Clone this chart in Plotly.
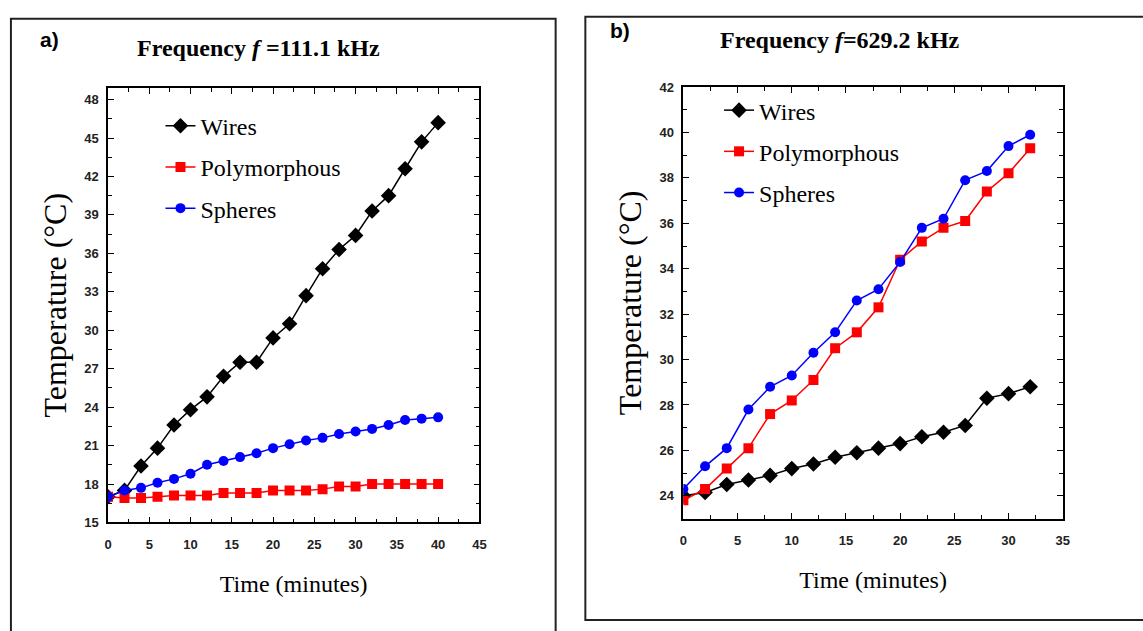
import plotly.graph_objects as go

# ---------------- data ----------------
time_a = [0, 2, 4, 6, 8, 10, 12, 14, 16, 18, 20, 22, 24, 26, 28, 30, 32, 34, 36, 38, 40]
wires_a = [17.0, 17.5, 19.4, 20.8, 22.6, 23.8, 24.8, 26.4, 27.5, 27.5, 29.4, 30.5, 32.7, 34.8, 36.3, 37.4, 39.3, 40.5, 42.6, 44.7, 46.2]
poly_a = [17.0, 16.9, 16.9, 17.0, 17.1, 17.1, 17.1, 17.3, 17.3, 17.3, 17.5, 17.5, 17.5, 17.6, 17.8, 17.8, 18.0, 18.0, 18.0, 18.0, 18.0]
spheres_a = [17.0, 17.5, 17.7, 18.1, 18.4, 18.8, 19.5, 19.8, 20.1, 20.4, 20.8, 21.1, 21.4, 21.6, 21.9, 22.1, 22.3, 22.6, 23.0, 23.1, 23.2]

time_b = [0, 2, 4, 6, 8, 10, 12, 14, 16, 18, 20, 22, 24, 26, 28, 30, 32]
wires_b = [24.0, 24.15, 24.5, 24.7, 24.9, 25.2, 25.4, 25.7, 25.9, 26.1, 26.3, 26.6, 26.8, 27.1, 28.3, 28.5, 28.8]
poly_b = [23.8, 24.3, 25.2, 26.1, 27.6, 28.2, 29.1, 30.5, 31.2, 32.3, 34.4, 35.2, 35.8, 36.1, 37.4, 38.2, 39.3]
spheres_b = [24.3, 25.3, 26.1, 27.8, 28.8, 29.3, 30.3, 31.2, 32.6, 33.1, 34.3, 35.8, 36.2, 37.9, 38.3, 39.4, 39.9]

series_names = ["Wires", "Polymorphous", "Spheres"]
title_a = "<b>Frequency <i>f</i> =111.1 kHz</b>"
title_b = "<b>Frequency <i>f</i>=629.2 kHz</b>"
x_title = "Time (minutes)"
y_title = "Temperature (°C)"

# ---------------- styling ----------------
W, H = 1143, 631
SERIF = "Liberation Serif, Times New Roman, serif"
SANS = "Liberation Sans Narrow, Arial Narrow, Liberation Sans, Arial, sans-serif"
colors = ["#000000", "#ff0000", "#0000ff"]
symbols = ["diamond", "square", "circle"]
msizes = [12, 10, 10]


def px_x(p):
    return p / W


def px_y(p):
    return 1 - p / H


fig = go.Figure()

for i, (name, ys) in enumerate(zip(series_names, [wires_a, poly_a, spheres_a])):
    fig.add_trace(go.Scatter(
        x=time_a, y=ys, name=name, mode="lines+markers",
        line=dict(color=colors[i], width=1.5),
        marker=dict(symbol=symbols[i], size=msizes[i], color=colors[i]),
        xaxis="x", yaxis="y", legend="legend", legendgroup="a" + name,
    ))

for i, (name, ys) in enumerate(zip(series_names, [wires_b, poly_b, spheres_b])):
    fig.add_trace(go.Scatter(
        x=time_b, y=ys, name=name, mode="lines+markers",
        line=dict(color=colors[i], width=1.5),
        marker=dict(symbol=symbols[i], size=msizes[i], color=colors[i]),
        xaxis="x2", yaxis="y2", legend="legend2", legendgroup="b" + name,
    ))

tickfont = dict(family=SANS, size=13, color="#222222", weight="bold")
titlefont = dict(family=SERIF, size=24, color="#000000")


def xax(domain, rng, anchor, dtick):
    return dict(
        domain=domain, range=rng, anchor=anchor, dtick=dtick, tick0=0,
        showgrid=False, zeroline=False, showline=True, linecolor="#000",
        linewidth=1.5, mirror="allticks", ticks="inside", ticklen=6,
        tickwidth=1.2, tickcolor="#000", ticklabelstandoff=9,
        minor=dict(ticks="inside", ticklen=4, tickwidth=1, tickcolor="#000", dtick=dtick / 2),
        tickfont=tickfont,
        title=dict(text=x_title, font=titlefont, standoff=24),
    )


def yax(domain, rng, anchor, dtick, tick0, standoff):
    return dict(
        domain=domain, range=rng, anchor=anchor, dtick=dtick, tick0=tick0,
        showgrid=False, zeroline=False, showline=True, linecolor="#000",
        linewidth=1.5, mirror="allticks", ticks="inside", ticklen=6,
        tickwidth=1.2, tickcolor="#000", ticklabelstandoff=5,
        minor=dict(ticks="inside", ticklen=4, tickwidth=1, tickcolor="#000", dtick=dtick / 2),
        tickfont=tickfont,
        title=dict(text=y_title, font=dict(family=SERIF, size=32, color="#000"), standoff=standoff),
    )


legend_common = dict(
    font=dict(family=SERIF, size=24, color="#000"),
    bgcolor="rgba(0,0,0,0)", borderwidth=0, tracegroupgap=7,
    xanchor="left", yanchor="top", itemsizing="trace",
)

fig.update_layout(
    width=W, height=H,
    margin=dict(l=0, r=0, t=0, b=0),
    paper_bgcolor="white", plot_bgcolor="white",
    xaxis=xax([px_x(105), px_x(480)], [0, 45], "y", 5),
    yaxis=yax([px_y(528), px_y(83)], [15, 48.9], "x", 3, 15, 8),
    xaxis2=xax([px_x(686), px_x(1069)], [0, 35], "y2", 5),
    yaxis2=yax([px_y(524), px_y(82)], [23, 42], "x2", 2, 24, 8),
    legend=dict(x=px_x(158), y=px_y(99), **legend_common),
    legend2=dict(x=px_x(722), y=px_y(83), **legend_common),
    showlegend=True,
    annotations=[
        dict(text=title_a, x=px_x(257), y=px_y(42), xref="paper", yref="paper",
             xanchor="center", yanchor="middle",
             showarrow=False, font=dict(family=SERIF, size=24, color="#000")),
        dict(text=title_b, x=px_x(844), y=px_y(34), xref="paper", yref="paper",
             xanchor="center", yanchor="middle",
             showarrow=False, font=dict(family=SERIF, size=24, color="#000")),
        dict(text="<b>a)</b>", x=px_x(46), y=px_y(33), xref="paper", yref="paper",
             xanchor="center", yanchor="middle",
             showarrow=False, font=dict(family="Liberation Sans, Arial, sans-serif", size=21, color="#000")),
        dict(text="<b>b)</b>", x=px_x(622), y=px_y(24), xref="paper", yref="paper",
             xanchor="center", yanchor="middle",
             showarrow=False, font=dict(family="Liberation Sans, Arial, sans-serif", size=21, color="#000")),
    ],
    shapes=[
        dict(type="rect", xref="paper", yref="paper",
             x0=px_x(7), x1=px_x(557), y0=-0.05, y1=px_y(12),
             line=dict(color="#222", width=2)),
        dict(type="rect", xref="paper", yref="paper",
             x0=px_x(587), x1=1.05, y0=px_y(628), y1=px_y(10),
             line=dict(color="#222", width=2)),
    ],
)

fig.write_html("out.html")
